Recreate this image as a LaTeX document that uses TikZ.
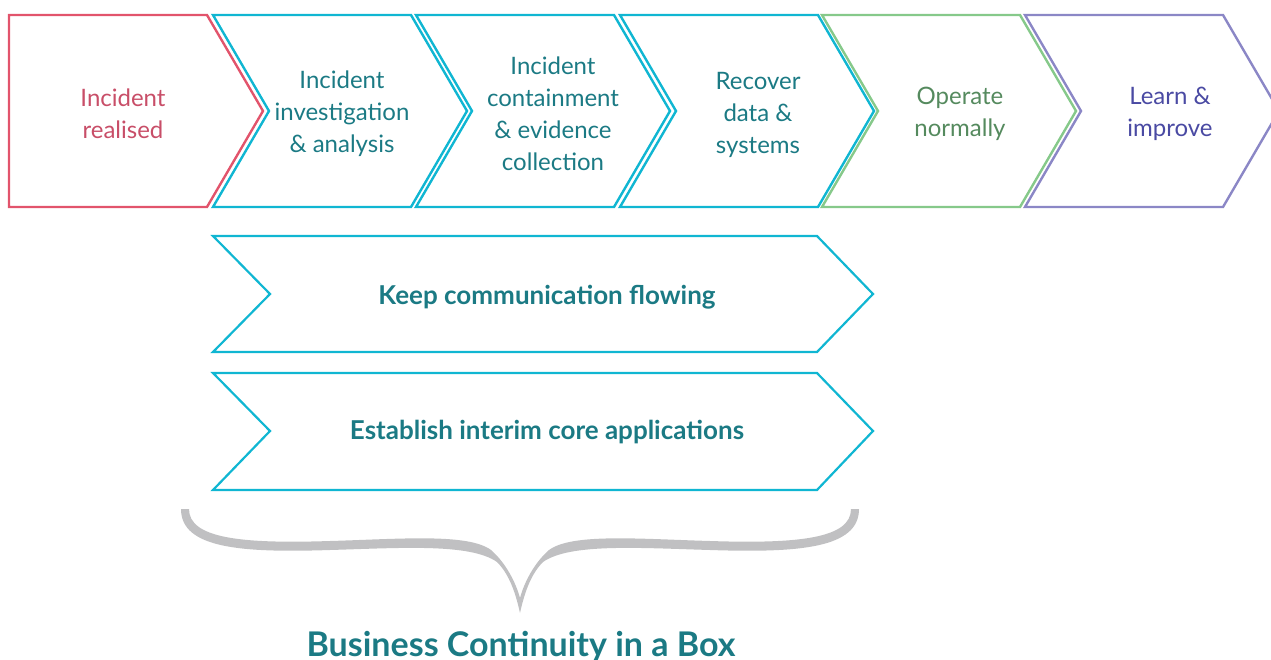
\documentclass[tikz,border=0pt]{standalone}
\usepackage{fontspec}
\setmainfont{Lato}
\definecolor{cRed}{HTML}{E2546C}
\definecolor{tRed}{HTML}{C84E68}
\definecolor{cCyan}{HTML}{10B6D2}
\definecolor{tTeal}{HTML}{1B7A84}
\definecolor{cGreen}{HTML}{86C98A}
\definecolor{tGreen}{HTML}{558A5E}
\definecolor{cPurple}{HTML}{8B87C6}
\definecolor{tPurple}{HTML}{4A4AA3}
\definecolor{cGray}{HTML}{C0C0C2}
\begin{document}
\begin{tikzpicture}[x=1pt,y=-1pt,
  chev/.style={line width=2.4pt, line join=miter},
  steptext/.style={align=center, font=\fontsize{24}{32}\selectfont},
  bandtext/.style={font=\fontsize{26}{30}\selectfont\bfseries, text=tTeal},
  titletext/.style={font=\fontsize{34}{38}\selectfont\bfseries, text=tTeal}]
\useasboundingbox (0,0) rectangle (1271,660);
% top chevrons
\draw[chev, draw=cRed] (9,15) -- (207,15) -- (263,111) -- (207,207) -- (9,207) -- cycle;
\foreach \L/\c in {213/cCyan, 416/cCyan, 620/cCyan, 822/cGreen, 1025/cPurple}{
  \draw[chev, draw=\c] (\L,15) -- ({\L+198},15) -- ({\L+254},111) -- ({\L+198},207) -- (\L,207) -- ({\L+56},111) -- cycle;
}
\node[steptext, text=tRed] (s1) at (123,114) {Incident\\realised};
\node[steptext, text=tTeal] (s2) at (342,114) {Incident\\investigation\\\& analysis};
\node[steptext, text=tTeal] (s3) at (553,114) {Incident\\containment\\\& evidence\\collection};
\node[steptext, text=tTeal] (s4) at (758,115) {Recover\\data \&\\systems};
\node[steptext, text=tGreen] (s5) at (960,114) {Operate\\normally};
\node[steptext, text=tPurple] (s6) at (1170,114) {Learn \&\\improve};
% bands
\draw[chev, line width=2.2pt, draw=cCyan] (213,236) -- (817,236) -- (873,294) -- (817,352) -- (213,352) -- (270,294) -- cycle;
\draw[chev, line width=2.2pt, draw=cCyan] (213,373) -- (817,373) -- (873,431) -- (817,490) -- (213,490) -- (270,431) -- cycle;
\node[bandtext] (b1) at (547,297) {Keep communication flowing};
\node[bandtext] (b2) at (547,432) {Establish interim core applications};
% brace
\fill[cGray] (181,509) .. controls (181,548) and (240,553) .. (330,550)
  .. controls (400,548) and (470,543) .. (497,562)
  .. controls (510,575) and (516,595) .. (520,613)
  .. controls (524,595) and (530,575) .. (543,562)
  .. controls (570,543) and (640,548) .. (710,550)
  .. controls (800,553) and (859,548) .. (859,509)
  -- (851,509)
  .. controls (851,538) and (800,544) .. (710,541)
  .. controls (640,539) and (572,533) .. (549,550)
  .. controls (534,563) and (524,583) .. (520,598)
  .. controls (516,583) and (506,563) .. (491,550)
  .. controls (468,533) and (400,539) .. (330,541)
  .. controls (240,544) and (189,538) .. (189,509) -- cycle;
\node[titletext] (t) at (521,647) {Business Continuity in a Box};
\end{tikzpicture}
\end{document}
